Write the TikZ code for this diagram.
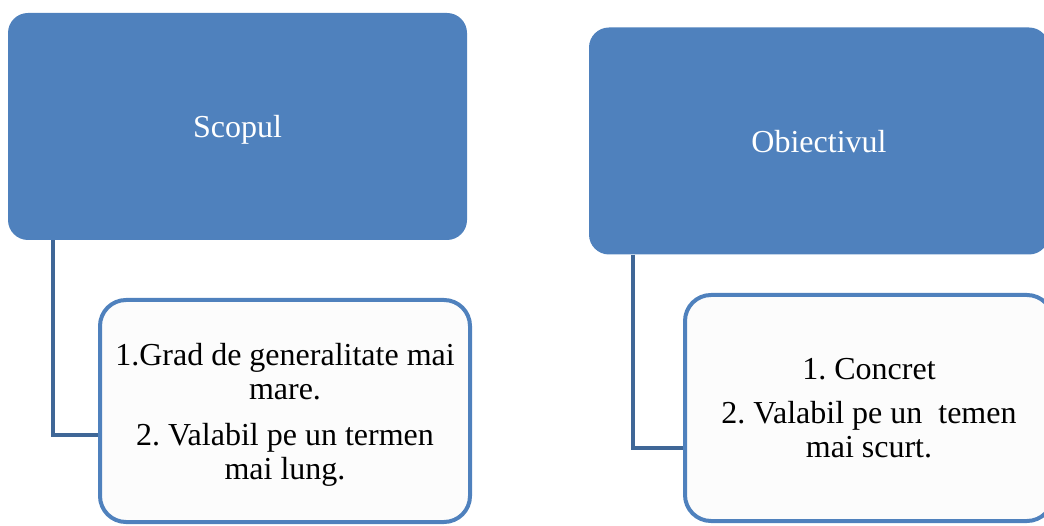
\documentclass[tikz,border=0pt]{standalone}
\usepackage{fontspec}
\setmainfont{Liberation Serif}
\frenchspacing
\definecolor{boxblue}{HTML}{4F81BD}
\definecolor{linkblue}{HTML}{3F6797}
\definecolor{paper}{HTML}{FCFCFC}

\begin{document}
\begin{tikzpicture} [x = 1pt, y = -1pt,
  topbox/.style = {fill = boxblue, rounded corners = 20pt, text = white, text depth = 0pt, minimum width = 459pt, minimum height = 227pt, font = \fontsize{32}{34}\selectfont},
  listbox/.style = {draw = boxblue, line width = 4pt, fill = paper, rounded corners = 26pt, align = center, minimum height = 222pt, font = \fontsize{32}{34}\selectfont},
  link/.style = {draw = linkblue, line width = 4.5pt}]
\useasboundingbox (0,0) rectangle (1044,526);
\node[topbox] (scop) at (237.5,126.5) {Scopul};
\node[topbox, minimum width = 460pt] (obiectiv) at (819,141) {Obiectivul};
\node[listbox, minimum width = 370pt, text depth = -20pt] (lista1) at (285,411) {1.Grad de generalitate mai\\ mare.\\[12pt] 2. Valabil pe un termen\\ mai lung.};
\node[listbox, minimum width = 368pt, minimum height = 226pt, text depth = -18pt] (lista2) at (869,408) {1. Concret\\[10pt] 2. Valabil pe un~ temen\\ mai scurt.};
\draw[link] ([xshift = 45pt]scop.south west) |- ([yshift = -24pt]lista1.west);
\draw[link] ([xshift = 44pt]obiectiv.south west) |- ([yshift = -40pt]lista2.west);
\end{tikzpicture}
\end{document}
